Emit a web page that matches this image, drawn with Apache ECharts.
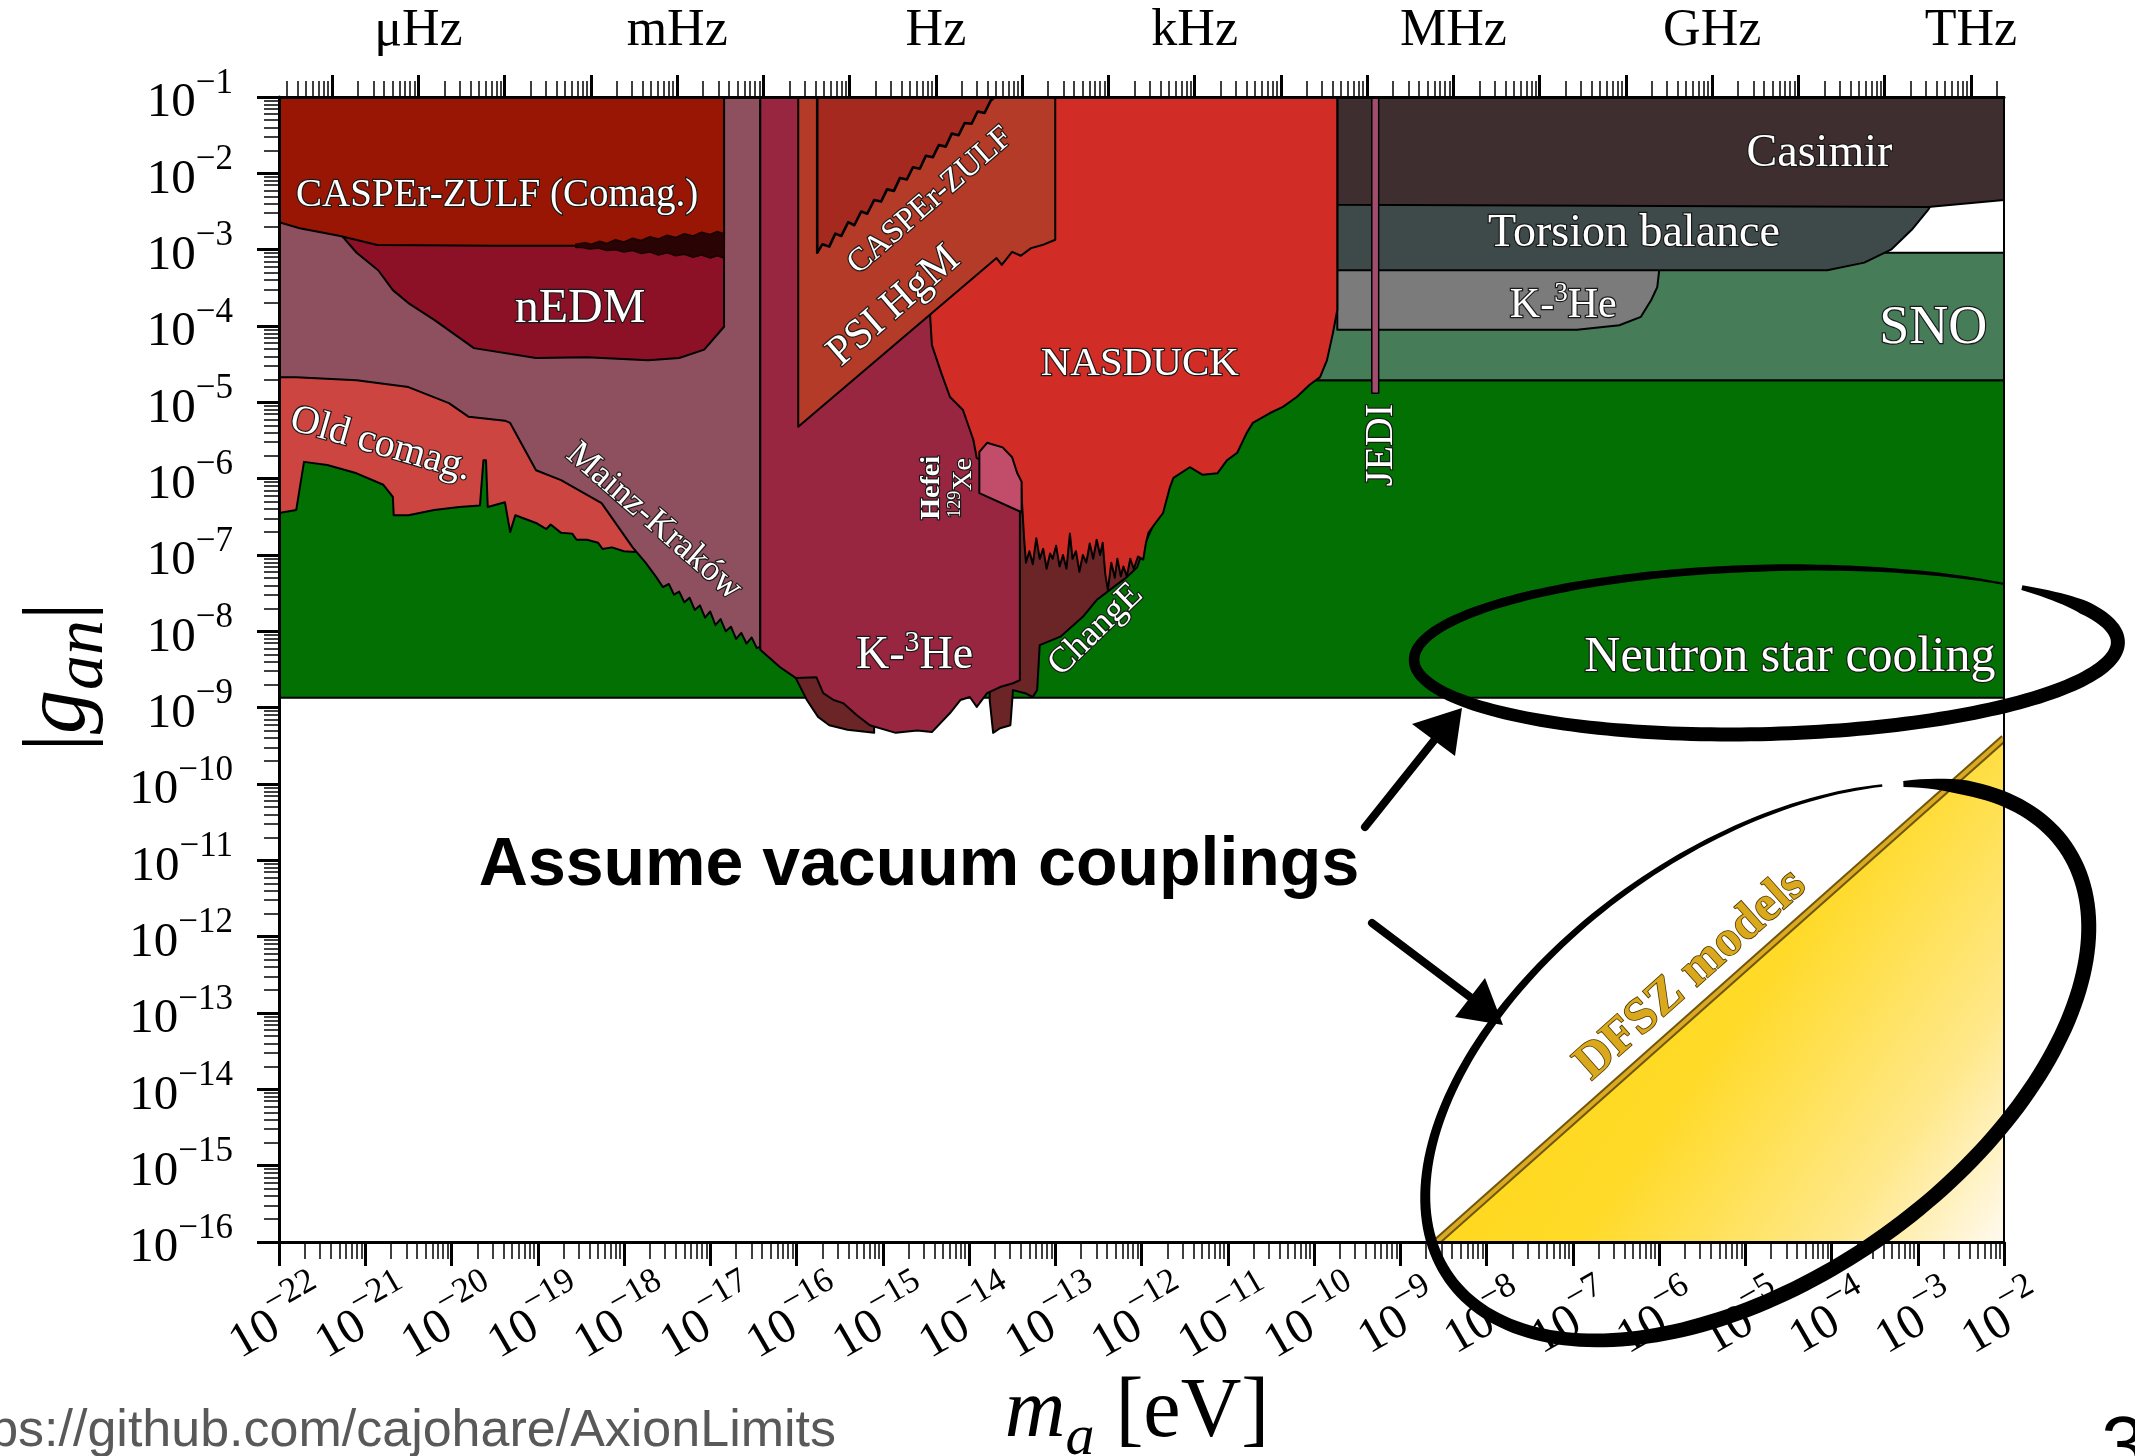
<!DOCTYPE html>
<html>
<head>
<meta charset="utf-8">
<title>Axion–neutron coupling limits</title>
<script src="https://cdn.jsdelivr.net/npm/echarts@6/dist/echarts.min.js"></script>
<style>
  html, body { margin: 0; padding: 0; background: #ffffff; overflow: hidden; }
  #chart { width: 2135px; height: 1456px; }
</style>
</head>
<body>
<div id="chart"></div>
<script>
// All limit curves are stored as [log10(m_a / eV), log10(|g_an|)] pairs.

// ---- Axis ranges and tick labels ----
const massDecades = [-22, -21, -20, -19, -18, -17, -16, -15, -14, -13, -12, -11, -10, -9, -8, -7, -6, -5, -4, -3, -2];
const couplingDecades = [-16, -15, -14, -13, -12, -11, -10, -9, -8, -7, -6, -5, -4, -3, -2, -1];
const freqUnits = ['μHz', 'mHz', 'Hz', 'kHz', 'MHz', 'GHz', 'THz'];
const freqUnitExps = [-6, -3, 0, 3, 6, 9, 12];

// ---- Exclusion regions ----
const nsCooling = [[-22, -8.87], [-2, -8.87], [-2, -4.71], [-22, -4.71]];
const sno = [[-10.2, -4.71], [-2, -4.71], [-2, -3.04], [-10.2, -3.04]];
const k3heTorsion = [[-9.73, -3.1], [-9.73, -4.05], [-6.95, -4.05], [-6.46, -3.99], [-6.21, -3.88], [-6.09, -3.66], [-6.02, -3.49], [-6.0, -3.29], [-5.99, -3.1]];
const torsionBalance = [[-9.73, -2.3], [-9.73, -3.27], [-4.05, -3.27], [-3.62, -3.17], [-3.31, -3.0], [-3.07, -2.74], [-2.88, -2.48], [-2.79, -2.3]];
const casimir = [[-9.73, -1], [-9.73, -2.41], [-2.88, -2.44], [-2.0, -2.35], [-2, -1]];
const jedi = [[-9.33, -1], [-9.33, -4.88], [-9.25, -4.88], [-9.25, -1]];

const oldComag = [[-22, -1], [-22, -6.45], [-21.80, -6.41], [-21.71, -5.78], [-21.44, -5.82], [-21.10, -5.93], [-20.79, -6.08],
  [-20.68, -6.24], [-20.67, -6.48], [-20.50, -6.48], [-20.20, -6.41], [-19.91, -6.37], [-19.67, -6.35], [-19.63, -5.76],
  [-19.60, -5.76], [-19.58, -6.37], [-19.38, -6.31], [-19.32, -6.70], [-19.26, -6.48], [-19.02, -6.58], [-18.90, -6.66],
  [-18.85, -6.60], [-18.73, -6.71], [-18.60, -6.72], [-18.55, -6.80], [-18.43, -6.80], [-18.30, -6.84], [-18.25, -6.92],
  [-18.14, -6.90], [-18.0, -6.95], [-17.87, -6.96], [-17.87, -1]];

const mainzKrakow = [[-22, -1], [-22, -4.67], [-21.80, -4.67], [-21.10, -4.71], [-20.50, -4.80], [-20.03, -5.01], [-19.80, -5.19],
  [-19.38, -5.24], [-19.32, -5.27], [-19.02, -5.89], [-18.73, -6.02], [-18.26, -6.32], [-17.90, -6.90], [-17.75, -7.10],
  [-17.62, -7.30], [-17.55, -7.42], [-17.48, -7.38], [-17.42, -7.52], [-17.36, -7.48], [-17.30, -7.62], [-17.24, -7.56],
  [-17.18, -7.72], [-17.12, -7.66], [-17.06, -7.82], [-17.00, -7.74], [-16.94, -7.92], [-16.88, -7.84], [-16.82, -8.00],
  [-16.76, -7.94], [-16.70, -8.10], [-16.64, -8.02], [-16.58, -8.16], [-16.52, -8.08], [-16.46, -8.22], [-16.42, -8.20],
  [-16.42, -1]];

const nEDM = [[-21.30, -1], [-21.30, -2.78], [-21.10, -3.04], [-20.85, -3.27], [-20.68, -3.53], [-20.50, -3.70], [-20.20, -3.92],
  [-19.74, -4.29], [-19.02, -4.42], [-18.43, -4.41], [-17.72, -4.45], [-17.36, -4.42], [-17.07, -4.31], [-16.84, -4.01], [-16.84, -1]];

const casperComag = [[-22, -1], [-22, -2.64], [-21.76, -2.72], [-21.29, -2.82], [-20.86, -2.94], [-19.5, -2.95], [-18.56, -2.95],
  [-18.0, -2.95], [-17.5, -2.95], [-16.84, -2.95], [-16.84, -1]];

// scatter band of the CASPEr-ZULF comagnetometer limit (upper edge, then lower edge back)
const casperComagBand = [[-18.56, -2.93], [-18.45, -2.91], [-18.38, -2.93], [-18.28, -2.89], [-18.20, -2.92], [-18.10, -2.87],
  [-18.00, -2.90], [-17.90, -2.85], [-17.80, -2.88], [-17.70, -2.83], [-17.60, -2.86], [-17.50, -2.81], [-17.40, -2.84],
  [-17.30, -2.79], [-17.20, -2.82], [-17.10, -2.77], [-17.00, -2.80], [-16.92, -2.76], [-16.84, -2.79],
  [-16.84, -3.11], [-16.92, -3.08], [-17.00, -3.11], [-17.10, -3.07], [-17.20, -3.10], [-17.30, -3.06], [-17.40, -3.08],
  [-17.50, -3.04], [-17.60, -3.07], [-17.70, -3.03], [-17.80, -3.05], [-17.90, -3.01], [-18.00, -3.03], [-18.10, -3.00],
  [-18.20, -3.01], [-18.30, -2.98], [-18.40, -2.99], [-18.50, -2.97], [-18.56, -2.97]];

const k3heLowEdge = [[-16.01, -8.5], [-16.01, -8.61], [-15.88, -8.90], [-15.75, -9.12], [-15.62, -9.23], [-15.41, -9.29], [-15.10, -9.33], [-15.10, -8.5]];

const changE = [[-13.76, -8.70], [-13.76, -8.90], [-13.72, -9.33], [-13.64, -9.27], [-13.52, -9.23], [-13.49, -8.77], [-13.35, -8.81],
  [-13.26, -8.86], [-13.21, -8.77], [-13.18, -8.18], [-12.94, -8.07], [-12.68, -7.81], [-12.52, -7.59], [-12.37, -7.46],
  [-12.17, -7.29], [-12.05, -7.16], [-11.94, -6.80], [-11.86, -6.60], [-11.86, -6.3], [-13.76, -6.3]];

const k3he = [[-16.42, -1], [-16.42, -8.24], [-16.19, -8.47], [-16.01, -8.61], [-15.77, -8.60], [-15.69, -8.81], [-15.57, -8.90],
  [-15.46, -8.94], [-15.30, -9.10], [-15.15, -9.23], [-14.85, -9.33], [-14.60, -9.30], [-14.43, -9.32], [-14.22, -9.07],
  [-14.10, -8.90], [-13.99, -8.86], [-13.91, -8.99], [-13.79, -8.81], [-13.64, -8.73], [-13.49, -8.68], [-13.41, -8.64], [-13.41, -1]];

const nasduck = [[-14.45, -1], [-14.45, -3.88], [-14.43, -4.25], [-14.32, -4.62], [-14.22, -4.93], [-14.07, -5.10], [-13.95, -5.49],
  [-13.91, -5.73], [-13.64, -5.86], [-13.40, -6.04], [-13.36, -6.80], [-13.34, -7.10], [-13.30, -6.95], [-13.26, -7.12],
  [-13.22, -6.78], [-13.18, -7.05], [-13.14, -6.92], [-13.10, -7.18], [-13.06, -6.98], [-13.03, -7.05], [-12.99, -6.88],
  [-12.95, -7.15], [-12.91, -7.00], [-12.87, -7.18], [-12.83, -6.72], [-12.80, -7.05], [-12.76, -6.95], [-12.72, -7.22],
  [-12.68, -7.00], [-12.64, -7.10], [-12.60, -6.85], [-12.56, -7.05], [-12.52, -6.80], [-12.48, -7.00], [-12.45, -6.84],
  [-12.42, -7.25], [-12.39, -7.46], [-12.35, -7.10], [-12.31, -7.30], [-12.28, -7.05], [-12.24, -7.28], [-12.21, -7.15],
  [-12.17, -7.28], [-12.13, -7.05], [-12.09, -7.18], [-12.04, -7.02], [-11.98, -7.06], [-11.95, -6.85], [-11.92, -6.71],
  [-11.87, -6.63], [-11.75, -6.45], [-11.67, -6.11], [-11.63, -5.99], [-11.44, -5.85], [-11.29, -5.95], [-11.12, -5.93],
  [-11.01, -5.76], [-10.89, -5.66], [-10.78, -5.40], [-10.71, -5.27], [-10.51, -5.14], [-10.36, -5.06], [-10.20, -4.93],
  [-10.05, -4.77], [-9.93, -4.67], [-9.85, -4.45], [-9.78, -4.09], [-9.73, -3.79], [-9.73, -1]];

const hefeiXe = [[-13.88, -5.65], [-13.79, -5.53], [-13.61, -5.59], [-13.50, -5.72], [-13.44, -5.93], [-13.39, -6.04], [-13.39, -6.44], [-13.88, -6.19]];

const psiHgM = [[-15.98, -1], [-15.98, -5.32], [-13.68, -3.11], [-13.62, -3.20], [-13.50, -3.03], [-13.40, -3.08], [-13.28, -2.98],
  [-13.15, -2.94], [-13.0, -2.87], [-13.0, -1]];

const casperZulf = [[-15.76, -1], [-15.76, -3.04], [-15.70, -2.93], [-15.62, -2.96], [-15.55, -2.79], [-15.48, -2.82], [-15.40, -2.64],
  [-15.33, -2.68], [-15.25, -2.50], [-15.18, -2.53], [-15.10, -2.35], [-15.02, -2.37], [-14.95, -2.21], [-14.87, -2.23],
  [-14.80, -2.06], [-14.72, -2.08], [-14.65, -1.92], [-14.57, -1.94], [-14.50, -1.77], [-14.42, -1.79], [-14.35, -1.63],
  [-14.27, -1.65], [-14.20, -1.48], [-14.12, -1.50], [-14.05, -1.34], [-13.97, -1.35], [-13.90, -1.19], [-13.82, -1.21],
  [-13.75, -1.05], [-13.70, -1.0]];

// DFSZ band: lower-right triangle under the model line
const dfsz = [[-8.58, -16], [-2, -9.40], [-2, -16]];
const dfszEdge = [[-8.58, -16], [-2, -9.40]];

// ---- Tick helpers ----
const LOG_H_EVS = Math.log10(4.135667696e-15); // Planck constant in eV·s
const minorMass = [];
for (let n = -22; n < -2; n++) for (let k = 2; k <= 9; k++) minorMass.push(n + Math.log10(k));
const minorCoupling = [];
for (let n = -16; n < -1; n++) for (let k = 2; k <= 9; k++) minorCoupling.push(n + Math.log10(k));
const freqMajor = [], freqMinor = [];
for (let e = -8; e <= 12; e++) {
  const x0 = e + LOG_H_EVS;
  if (x0 >= -22 && x0 <= -2) freqMajor.push(x0);
  for (let k = 2; k <= 9; k++) {
    const x = x0 + Math.log10(k);
    if (x >= -22 && x <= -2) freqMinor.push(x);
  }
}
const freqLabelX = freqUnitExps.map(e => e + LOG_H_EVS);
// bottom labels are split over two stacked axes so neighbours never collide
const massLabelsEven = massDecades.filter(n => n % 2 === 0);
const massLabelsOdd = massDecades.filter(n => n % 2 !== 0);

const SERIF = "'Liberation Serif', 'DejaVu Serif', serif";
const SANS = "'Liberation Sans', Arial, sans-serif";

const powRich = {
  b: { fontFamily: SERIF, fontSize: 49, lineHeight: 62, verticalAlign: 'bottom', color: '#000' },
  s: { fontFamily: SERIF, fontSize: 35, lineHeight: 35, verticalAlign: 'top', color: '#000' }
};
function powLabel(v) {
  const n = Math.round(v);
  return '{b|10}{s|\u2212' + Math.abs(n) + '}';
}
function freqLabel(v) {
  for (let i = 0; i < freqLabelX.length; i++) if (Math.abs(freqLabelX[i] - v) < 1e-6) return freqUnits[i];
  return '';
}

function regionSeries(name, pts, color, extra) {
  return {
    type: 'custom', name: name, silent: true, clip: true, z: 2,
    xAxisIndex: 0, yAxisIndex: 0,
    data: pts,
    renderItem: function (params, api) {
      if (params.dataIndex !== 0) return null;
      const points = pts.map(p => api.coord(p));
      return {
        type: 'polygon',
        shape: { points: points },
        style: Object.assign({ fill: color, stroke: '#000', lineWidth: 2, lineJoin: 'round' }, extra || {})
      };
    }
  };
}

const dfszSeries = {
  type: 'custom', name: 'DFSZ models', silent: true, clip: true, z: 2,
  xAxisIndex: 0, yAxisIndex: 0,
  data: dfsz,
  renderItem: function (params, api) {
    if (params.dataIndex !== 0) return null;
    const points = dfsz.map(p => api.coord(p));
    const edge = dfszEdge.map(p => api.coord(p));
    return {
      type: 'group',
      children: [
        { type: 'polygon', shape: { points: points },
          style: { fill: new echarts.graphic.LinearGradient(0, 0.2, 1, 1, [
            { offset: 0, color: '#ffd70c' }, { offset: 0.5, color: '#ffda28' },
            { offset: 0.8, color: '#ffe88a' }, { offset: 1, color: '#fffaf0' }]), stroke: null } },
        { type: 'polyline', shape: { points: edge }, style: { stroke: '#6f560a', lineWidth: 8, fill: null } },
        { type: 'polyline', shape: { points: edge }, style: { stroke: '#dcaa22', lineWidth: 4, fill: null } }
      ]
    };
  }
};

const series = [
  regionSeries('Neutron star cooling', nsCooling, '#037003'),
  regionSeries('SNO', sno, '#467c58'),
  regionSeries('K-3He (torsion)', k3heTorsion, '#7b7b7b'),
  regionSeries('Torsion balance', torsionBalance, '#3e4a4a'),
  regionSeries('Casimir', casimir, '#3f2e2f'),
  regionSeries('JEDI', jedi, '#a24d6e', { lineWidth: 1.5 }),
  regionSeries('Old comag.', oldComag, '#cc4541'),
  regionSeries('Mainz-Kraków', mainzKrakow, '#8e4f5e'),
  regionSeries('nEDM', nEDM, '#8c1127'),
  regionSeries('CASPEr-ZULF (Comag.)', casperComag, '#9a1604'),
  regionSeries('CASPEr-ZULF (Comag.) scatter', casperComagBand, '#2a0404', { stroke: '#1a0202', lineWidth: 1.5 }),
  regionSeries('K-3He edge', k3heLowEdge, '#6b2526'),
  regionSeries('ChangE', changE, '#6b2526'),
  regionSeries('K-3He', k3he, '#982641'),
  regionSeries('NASDUCK', nasduck, '#d12d26'),
  regionSeries('Hefei 129Xe', hefeiXe, '#c14d6a'),
  regionSeries('PSI HgM', psiHgM, '#b33b27'),
  regionSeries('CASPEr-ZULF', casperZulf, '#a5291f', { lineWidth: 2.6 }),
  dfszSeries
];

const hiddenLine = { show: false };
const bottomLabel = (values) => ({
  show: true, customValues: values, formatter: powLabel, rich: powRich, rotate: 30,
  align: 'center', verticalAlign: 'middle', margin: 72, padding: [0, 8, 0, 0],
  showMinLabel: true, showMaxLabel: true
});
const option = {
  animation: false,
  backgroundColor: '#ffffff',
  grid: { left: 279, right: 131, top: 97, bottom: 214, containLabel: false, outerBoundsMode: 'none' },
  xAxis: [
    { type: 'value', min: -22, max: -2, position: 'bottom', z: 5,
      axisLine: { show: true, onZero: false, lineStyle: { color: '#000', width: 3 } },
      axisTick: { show: true, customValues: massDecades, length: 24, lineStyle: { color: '#000', width: 3 } },
      axisLabel: bottomLabel(massLabelsEven),
      splitLine: hiddenLine },
    { type: 'value', min: -22, max: -2, position: 'bottom', z: 5,
      axisLine: { show: false, onZero: false },
      axisTick: { show: true, customValues: minorMass, length: 17, lineStyle: { color: '#000', width: 1.5 } },
      axisLabel: bottomLabel(massLabelsOdd), splitLine: hiddenLine },
    { type: 'value', min: -22, max: -2, position: 'top', z: 5,
      axisLine: { show: true, onZero: false, lineStyle: { color: '#000', width: 3 } },
      axisTick: { show: true, customValues: freqMajor, length: 22, lineStyle: { color: '#000', width: 3 } },
      axisLabel: { show: true, customValues: freqLabelX, formatter: freqLabel, fontFamily: SERIF, fontSize: 52,
        lineHeight: 52, color: '#000', margin: 40, showMinLabel: true, showMaxLabel: true },
      splitLine: hiddenLine },
    { type: 'value', min: -22, max: -2, position: 'top', z: 5,
      axisLine: { show: false, onZero: false },
      axisTick: { show: true, customValues: freqMinor, length: 16, lineStyle: { color: '#000', width: 1.5 } },
      axisLabel: { show: false }, splitLine: hiddenLine }
  ],
  yAxis: [
    { type: 'value', min: -16, max: -1, position: 'left', z: 5,
      axisLine: { show: true, onZero: false, lineStyle: { color: '#000', width: 3 } },
      axisTick: { show: true, customValues: couplingDecades, length: 22, lineStyle: { color: '#000', width: 3 } },
      axisLabel: { show: true, customValues: couplingDecades, formatter: powLabel, rich: powRich, margin: 46,
        showMinLabel: true, showMaxLabel: true },
      splitLine: hiddenLine },
    { type: 'value', min: -16, max: -1, position: 'left', z: 5,
      axisLine: { show: false, onZero: false },
      axisTick: { show: true, customValues: minorCoupling, length: 15, lineStyle: { color: '#000', width: 1.5 } },
      axisLabel: { show: false }, splitLine: hiddenLine },
    { type: 'value', min: -16, max: -1, position: 'right', z: 5,
      axisLine: { show: true, onZero: false, lineStyle: { color: '#000', width: 2 } },
      axisTick: { show: false }, axisLabel: { show: false }, splitLine: hiddenLine }
  ],
  series: series
};

const chart = echarts.init(document.getElementById('chart'), null, { renderer: 'canvas', width: 2135, height: 1456 });
chart.setOption(option);

// ---- Region names, placed in data coordinates ----
const regionLabels = [
  { text: 'CASPEr-ZULF (Comag.)', at: [-19.47, -2.30], size: 39 },
  { text: 'nEDM', at: [-18.51, -3.78], size: 48 },
  { text: 'Old comag.', at: [-20.82, -5.55], size: 40, rot: -16 },
  { text: 'Mainz-Kraków', at: [-17.65, -6.56], size: 36, rot: -41 },
  { text: 'CASPEr-ZULF', at: [-14.45, -2.36], size: 33, rot: 41 },
  { text: 'PSI HgM', at: [-14.87, -3.74], size: 42, rot: 41 },
  { text: 'NASDUCK', at: [-12.02, -4.50], size: 41 },
  { text: 'Hefei', at: [-14.43, -6.12], size: 28, rot: 90, weight: 'bold' },
  { rich: '{s|129}{a|Xe}', at: [-14.08, -6.12], size: 28, sup: 18, rot: 90 },
  { rich: '{a|K-}{s|3}{a|He}', at: [-14.63, -8.29], size: 46, sup: 30 },
  { text: 'ChangE', at: [-12.53, -7.98], size: 36, rot: 44 },
  { text: 'JEDI', at: [-9.22, -5.56], size: 40, rot: 90 },
  { text: 'Casimir', at: [-4.14, -1.74], size: 46 },
  { text: 'Torsion balance', at: [-6.29, -2.80], size: 46 },
  { rich: '{a|K-}{s|3}{a|He}', at: [-7.11, -3.71], size: 42, sup: 27 },
  { text: 'SNO', at: [-2.82, -4.04], size: 54 },
  { text: 'Neutron star cooling', at: [-2.10, -8.35], size: 50, align: 'right' },
  { text: 'DFSZ models', at: [-5.63, -12.50], size: 50, rot: 41.7, weight: 'bold', fill: '#d9a81c', stroke: '#4a3600', lw: 1.6 }
];

function labelElement(l) {
  const p = chart.convertToPixel({ xAxisIndex: 0, yAxisIndex: 0 }, l.at);
  const fill = l.fill || '#ffffff', stroke = l.stroke || '#1a1a1a', lw = l.lw || 2.4;
  const style = {
    fontFamily: SERIF, fontSize: l.size, fontWeight: l.weight || 'normal',
    fill: fill, stroke: stroke, lineWidth: lw,
    align: l.align || 'center', verticalAlign: 'middle'
  };
  if (l.rich) {
    style.text = l.rich;
    style.rich = {
      a: { fontFamily: SERIF, fontSize: l.size, lineHeight: l.size * 1.1, verticalAlign: 'bottom', fill: fill, stroke: stroke, lineWidth: lw },
      s: { fontFamily: SERIF, fontSize: l.sup, lineHeight: l.sup, verticalAlign: 'top', fill: fill, stroke: stroke, lineWidth: lw }
    };
  } else {
    style.text = l.text;
  }
  return { type: 'text', x: p[0], y: p[1], rotation: (l.rot || 0) * Math.PI / 180, z: 50, silent: true, style: style };
}

// ---- Hand-drawn style ellipse stroke with varying width ----
function ellipseRibbon(cx, cy, a, b, phiDeg, t0, t1, widthAt) {
  const phi = phiDeg * Math.PI / 180, c = Math.cos(phi), s = Math.sin(phi);
  const outer = [], inner = [];
  const N = 220;
  for (let i = 0; i <= N; i++) {
    const td = t0 + (t1 - t0) * i / N, t = td * Math.PI / 180;
    const hw = widthAt(td) / 2;
    const ux = a * Math.cos(t), uy = b * Math.sin(t);
    let nx = Math.cos(t) / a, ny = Math.sin(t) / b;
    const nl = Math.hypot(nx, ny); nx /= nl; ny /= nl;
    const o = [ux + nx * hw, uy + ny * hw], n = [ux - nx * hw, uy - ny * hw];
    outer.push([cx + o[0] * c - o[1] * s, cy + o[0] * s + o[1] * c]);
    inner.push([cx + n[0] * c - n[1] * s, cy + n[0] * s + n[1] * c]);
  }
  return outer.concat(inner.reverse());
}

const ringWidthTop = t => t < -25 ? 5 + (t + 43) / 18 * 9 : t < 100 ? 14 : t < 270 ? 14 - (t - 100) / 170 * 7 : 7 - (t - 270) / 43 * 5;
const ringWidthLow = t => t < -30 ? 6 + (t + 42) / 12 * 9 : t < 120 ? 15 : t < 250 ? 15 - (t - 120) / 130 * 8 : 7 - (t - 250) / 64 * 4.5;

function arrow(from, shaftEnd, tip, c1, c2) {
  return [
    { type: 'line', z: 60, silent: true, shape: { x1: from[0], y1: from[1], x2: shaftEnd[0], y2: shaftEnd[1] },
      style: { stroke: '#000', lineWidth: 8, lineCap: 'round' } },
    { type: 'polygon', z: 60, silent: true, shape: { points: [tip, c1, c2] }, style: { fill: '#000' } }
  ];
}

const graphics = regionLabels.map(labelElement);

graphics.push(
  { type: 'polygon', z: 60, silent: true, shape: { points: ellipseRibbon(1766, 651, 352, 83, -1.5, -43, 313, ringWidthTop) }, style: { fill: '#000' } },
  { type: 'polygon', z: 60, silent: true, shape: { points: ellipseRibbon(1757, 1062, 376, 215, -35, -42, 314, ringWidthLow) }, style: { fill: '#000' } }
);
graphics.push(...arrow([1365, 827], [1440, 733], [1462, 708], [1412, 724], [1455, 756]));
graphics.push(...arrow([1372, 923], [1478, 1003], [1503, 1025], [1455, 1017], [1485, 978]));

graphics.push(
  { type: 'text', z: 60, silent: true, x: 919, y: 866,
    style: { text: 'Assume vacuum couplings', fontFamily: SANS, fontWeight: 'bold', fontSize: 68, fill: '#000', align: 'center', verticalAlign: 'middle' } },
  { type: 'text', z: 60, silent: true, x: 836, y: 1432,
    style: { text: 'https://github.com/cajohare/AxionLimits', fontFamily: SANS, fontSize: 52, fill: '#595959', align: 'right', verticalAlign: 'middle' } },
  { type: 'text', z: 60, silent: true, x: 2101, y: 1410,
    style: { text: '3', fontFamily: SANS, fontSize: 80, fill: '#000', align: 'left', verticalAlign: 'top' } },
  // axis titles
  { type: 'text', z: 60, silent: true, x: 61, y: 677, rotation: Math.PI / 2,
    style: { text: '{r||}{i|g}{u|an}{r||}', align: 'center', verticalAlign: 'middle',
      rich: {
        r: { fontFamily: SERIF, fontSize: 88, lineHeight: 88, verticalAlign: 'top', fill: '#000' },
        i: { fontFamily: SERIF, fontStyle: 'italic', fontSize: 88, lineHeight: 88, verticalAlign: 'top', fill: '#000' },
        u: { fontFamily: SERIF, fontStyle: 'italic', fontSize: 70, lineHeight: 70, padding: [32, 0, 0, 0], verticalAlign: 'top', fill: '#000' }
      } } },
  { type: 'text', z: 60, silent: true, x: 1137, y: 1372,
    style: { text: '{i|m}{u|a}{r| [eV]}', align: 'center', verticalAlign: 'top',
      rich: {
        i: { fontFamily: SERIF, fontStyle: 'italic', fontSize: 84, lineHeight: 84, verticalAlign: 'top', fill: '#000' },
        u: { fontFamily: SERIF, fontStyle: 'italic', fontSize: 58, lineHeight: 58, padding: [38, 0, 0, 0], verticalAlign: 'top', fill: '#000' },
        r: { fontFamily: SERIF, fontSize: 84, lineHeight: 84, verticalAlign: 'top', fill: '#000' }
      } } }
);

chart.setOption({ graphic: graphics });
</script>
</body>
</html>
